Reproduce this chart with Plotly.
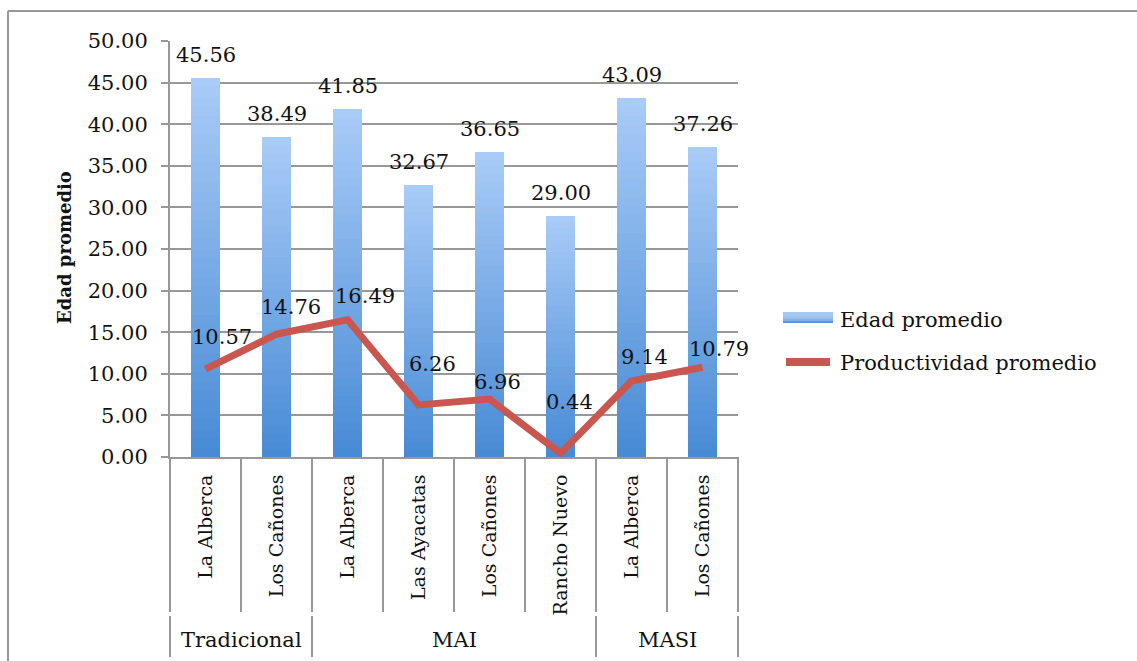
import plotly.graph_objects as go

# Categories: locality within each production system
localidades = ["La Alberca", "Los Cañones", "La Alberca", "Las Ayacatas",
               "Los Cañones", "Rancho Nuevo", "La Alberca", "Los Cañones"]
sistemas = ["Tradicional", "MAI", "MASI"]
sistema_tamano = [2, 4, 2]  # number of localities per system

edad_promedio = [45.56, 38.49, 41.85, 32.67, 36.65, 29.00, 43.09, 37.26]
productividad_promedio = [10.57, 14.76, 16.49, 6.26, 6.96, 0.44, 9.14, 10.79]

y_ticks = [0, 5, 10, 15, 20, 25, 30, 35, 40, 45, 50]

# Label offsets (pixels right, pixels up) for the productivity labels
prod_label_offsets = [(16, 32), (14, 27), (17, 24), (14, 41),
                      (8, 17), (9, 51), (13, 24), (16, 18)]

FONT = "DejaVu Serif"
GRID = "#989898"
TEXT = "#111111"
BAR_TOP = (168, 203, 247)
BAR_BOTTOM = (72, 139, 213)
LINE_COLOR = "#c9574f"

W, H = 1137, 661
L, R, T, B = 170, 738, 41, 457  # plot area in pixels

def px_x(px):
    return (px - L) / (R - L)

def px_y(py):
    return (B - py) / (B - T)

def mix(c1, c2, t):
    return "rgb({},{},{})".format(*[round(a + (b - a) * t) for a, b in zip(c1, c2)])

def note(**kw):
    kw.setdefault("showarrow", False)
    kw.setdefault("xanchor", "center")
    kw.setdefault("yanchor", "middle")
    return kw

n = len(localidades)
xs = list(range(n))
fig = go.Figure()

# Bars with a vertical light-to-dark gradient built from overlaid bars
steps = 40
for k in range(steps):
    frac = 1 - k / steps
    fig.add_trace(go.Bar(
        x=xs, y=[v * frac for v in edad_promedio], width=0.4,
        marker=dict(color=mix(BAR_TOP, BAR_BOTTOM, k / (steps - 1)), line=dict(width=0)),
        showlegend=False, hoverinfo="skip" if k else "y", name="Edad promedio"))

fig.add_trace(go.Scatter(
    x=xs, y=productividad_promedio, mode="lines",
    line=dict(color=LINE_COLOR, width=7), name="Productividad promedio",
    showlegend=False))

annotations = []
for i, v in enumerate(edad_promedio):
    annotations.append(note(x=i, y=v, text=f"{v:.2f}", yshift=23,
                            font=dict(family=FONT, size=21, color=TEXT)))
for i, v in enumerate(productividad_promedio):
    dx, dy = prod_label_offsets[i]
    annotations.append(note(x=i, y=v, text=f"{v:.2f}", xshift=dx, yshift=dy,
                            font=dict(family=FONT, size=21, color=TEXT)))

# Y axis title
annotations.append(note(xref="paper", yref="paper", x=px_x(64), y=px_y(248),
                        text="<b>Edad promedio</b>", textangle=-90,
                        font=dict(family=FONT, size=18, color=TEXT)))

shapes = []
# Outer frame (top and left edges)
shapes.append(dict(type="line", xref="paper", yref="paper",
                   x0=px_x(8), x1=px_x(W + 5), y0=px_y(11), y1=px_y(11),
                   line=dict(color=GRID, width=2)))
shapes.append(dict(type="line", xref="paper", yref="paper",
                   x0=px_x(8), x1=px_x(8), y0=px_y(11), y1=px_y(H + 5),
                   line=dict(color=GRID, width=2)))

# Category dividers below the axis
for b in range(n + 1):
    shapes.append(dict(type="line", xref="paper", yref="paper",
                       x0=b / n, x1=b / n, y0=px_y(B), y1=px_y(612),
                       line=dict(color=GRID, width=2)))

# System group dividers and labels
start = 0
bounds = [0]
for name, size in zip(sistemas, sistema_tamano):
    annotations.append(note(xref="paper", yref="paper", x=(start + size / 2) / n,
                            y=px_y(640), text=name,
                            font=dict(family=FONT, size=21, color=TEXT)))
    start += size
    bounds.append(start)
for b in bounds:
    shapes.append(dict(type="line", xref="paper", yref="paper",
                       x0=b / n, x1=b / n, y0=px_y(616), y1=px_y(657),
                       line=dict(color=GRID, width=2)))

# Legend
for j in range(10):
    t0 = j / 10
    shapes.append(dict(type="rect", xref="paper", yref="paper",
                       x0=px_x(783), x1=px_x(833),
                       y0=px_y(312 + 11 * t0), y1=px_y(312 + 11 * (t0 + 0.1)),
                       fillcolor=mix(BAR_TOP, BAR_BOTTOM, t0), line=dict(width=0)))
shapes.append(dict(type="line", xref="paper", yref="paper",
                   x0=px_x(786), x1=px_x(830), y0=px_y(362), y1=px_y(362),
                   line=dict(color=LINE_COLOR, width=8)))
annotations.append(note(xref="paper", yref="paper", x=px_x(838), y=px_y(320),
                        xanchor="left", text="Edad promedio",
                        font=dict(family=FONT, size=21, color=TEXT)))
annotations.append(note(xref="paper", yref="paper", x=px_x(838), y=px_y(363),
                        xanchor="left", text="Productividad promedio",
                        font=dict(family=FONT, size=21, color=TEXT)))

fig.update_layout(
    width=W, height=H, barmode="overlay", bargap=0,
    margin=dict(l=L, r=W - R, t=T, b=H - B, pad=0),
    paper_bgcolor="white", plot_bgcolor="white",
    showlegend=False, annotations=annotations, shapes=shapes,
    font=dict(family=FONT, color=TEXT),
)
fig.update_xaxes(range=[-0.5, n - 0.5], tickvals=xs, ticktext=localidades,
                 tickangle=-90, ticks="", ticklabelstandoff=8,
                 tickfont=dict(family=FONT, size=19, color=TEXT),
                 showline=True, linecolor=GRID, linewidth=2,
                 showgrid=False, zeroline=False)
fig.update_yaxes(range=[0, 50], tickvals=y_ticks, tickformat=".2f",
                 ticks="outside", ticklen=7, tickwidth=2, tickcolor=GRID,
                 ticklabelstandoff=9,
                 tickfont=dict(family=FONT, size=21, color=TEXT),
                 showline=True, linecolor=GRID, linewidth=2,
                 showgrid=True, gridcolor=GRID, gridwidth=2, zeroline=False)

fig.write_html("out.html")
